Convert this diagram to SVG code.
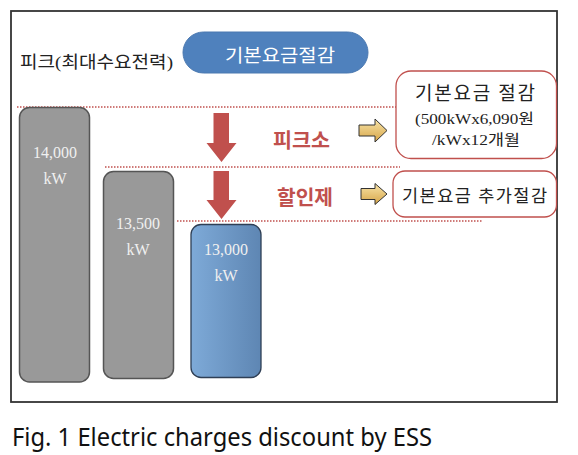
<svg xmlns="http://www.w3.org/2000/svg" width="578" height="455" viewBox="0 0 578 455">
<defs>
<style>
.kr{font-family:"Liberation Serif","Noto Sans CJK KR",serif;}
.bar{fill:#999999;stroke:#555555;stroke-width:1.5;}
.bartxt{font-family:"Liberation Serif","Noto Sans CJK KR",serif;font-size:16px;fill:#f0f0f0;text-anchor:middle;}
.dot{stroke:#c0504d;stroke-width:1.5;stroke-dasharray:1.5 1.5;fill:none;}
.red{fill:#c0504d;}
.ya{fill:url(#yg);stroke:#333333;stroke-width:1;}
.box{fill:#ffffff;stroke:#c0504d;stroke-width:1.3;}
.redlbl{font-family:"Noto Sans CJK KR",sans-serif;font-weight:bold;font-size:20px;fill:#c0504d;}
</style>
<linearGradient id="bg" x1="0" y1="0" x2="1" y2="0">
<stop offset="0" stop-color="#7eaad8"/>
<stop offset="1" stop-color="#5e86b3"/>
</linearGradient>
<linearGradient id="yg" x1="0" y1="0" x2="0" y2="1">
<stop offset="0" stop-color="#f8e4a8"/>
<stop offset="1" stop-color="#d6a548"/>
</linearGradient>
</defs>
<rect x="0" y="0" width="578" height="455" fill="#ffffff"/>
<rect id="frame" x="11" y="11" width="546" height="391" fill="none" stroke="#333333" stroke-width="1.8"/>

<g id="peak-label">
<text class="kr" x="20" y="68" font-size="17.5" fill="#222222" textLength="153" lengthAdjust="spacingAndGlyphs">피크(최대수요전력)</text>
</g>
<g id="pill">
<rect x="183" y="32" width="185" height="41" rx="20.5" fill="#4f81bd" stroke="#4a78b0" stroke-width="1"/>
<text class="kr" x="225" y="62" font-size="18" fill="#ffffff" textLength="110" lengthAdjust="spacingAndGlyphs">기본요금절감</text>
</g>

<g id="connectors">
<line class="dot" x1="17" y1="107" x2="396" y2="107"/>
<line class="dot" x1="105" y1="167" x2="400" y2="167"/>
<line class="dot" x1="177" y1="221" x2="482" y2="221"/>
<polygon class="red" points="213.5,113 229,113 229,143 236.5,143 221.5,162 206.5,143 213.5,143"/>
<polygon class="red" points="213.5,171 229,171 229,200 236.5,200 221.5,219 206.5,200 213.5,200"/>
<polygon class="ya" points="359,125 375,125 375,119 387,130.5 375,142 375,136 359,136"/>
<polygon class="ya" points="361,188.5 375,188.5 375,183.5 387,194 375,204.5 375,199.5 361,199.5"/>
</g>

<g id="bar1">
<rect class="bar" x="19.5" y="107.5" width="70" height="274.5" rx="10"/>
<text class="bartxt" x="55" y="158">14,000</text>
<text class="bartxt" x="55" y="184">kW</text>
</g>
<g id="bar2">
<rect class="bar" x="103.5" y="171.5" width="70" height="207" rx="10"/>
<text class="bartxt" x="138" y="229">13,500</text>
<text class="bartxt" x="138" y="255">kW</text>
</g>
<g id="bar3">
<rect x="191" y="224.5" width="70" height="153" rx="10" fill="url(#bg)" stroke="#2f3f55" stroke-width="1.3"/>
<text class="bartxt" x="226" y="255">13,000</text>
<text class="bartxt" x="226" y="281">kW</text>
</g>

<g id="label-peak">
<text class="redlbl" x="273" y="148" textLength="57" lengthAdjust="spacingAndGlyphs">피크소</text>
</g>
<g id="label-discount">
<text class="redlbl" x="277" y="205" textLength="56" lengthAdjust="spacingAndGlyphs">할인제</text>
</g>

<g id="box1">
<rect class="box" x="396" y="71" width="160.5" height="87.5" rx="15"/>
<text class="kr" x="415" y="100" font-size="19" fill="#222222" textLength="120" lengthAdjust="spacing">기본요금 절감</text>
<text class="kr" x="415" y="124" font-size="15" fill="#222222" textLength="119" lengthAdjust="spacingAndGlyphs">(500kWx6,090원</text>
<text class="kr" x="432" y="145" font-size="15" fill="#222222" textLength="88" lengthAdjust="spacingAndGlyphs">/kWx12개월</text>
</g>
<g id="box2">
<rect class="box" x="393" y="171" width="163.5" height="46" rx="12"/>
<text class="kr" x="402" y="202" font-size="17.5" fill="#222222" textLength="145" lengthAdjust="spacing">기본요금 추가절감</text>
</g>

<g id="caption">
<text x="12" y="446" font-family="Noto Sans, DejaVu Sans, sans-serif" font-size="25" fill="#111111" textLength="420" lengthAdjust="spacingAndGlyphs">Fig. 1 Electric charges discount by ESS</text>
</g>
</svg>
